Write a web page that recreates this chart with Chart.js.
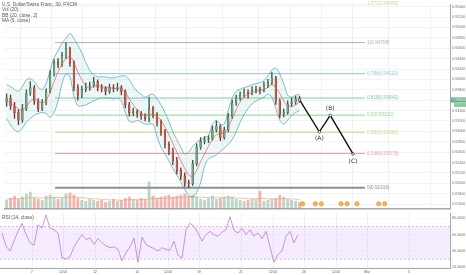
<!DOCTYPE html>
<html>
<head>
<meta charset="utf-8">
<script src="https://cdn.jsdelivr.net/npm/chart.js@4.4.1/dist/chart.umd.min.js"></script>
<style>
body { margin: 0; background: #fff; width: 466px; height: 275px; overflow: hidden; position: relative; font-family: "Liberation Sans", Arial, sans-serif; }
#main { position: absolute; left: 0; top: 0; }
#rsi { position: absolute; left: 0; top: 213px; }
.legend { position: absolute; left: 2px; top: 2px; font-size: 4.8px; line-height: 5.3px; color: #555; }
.rsiLegend { position: absolute; left: 2px; top: 215px; font-size: 4.8px; color: #555; }
</style>
</head>
<body>
<canvas id="main" width="466" height="213"></canvas>
<canvas id="rsi" width="466" height="62"></canvas>
<div class="legend">U.S. Dollar/Swiss Franc, 30, FXCM<br>Vol (20)<br>BB (20, close, 2)<br>MA (9, close)</div>
<div class="rsiLegend">RSI (14, close)</div>
<script>
// time axis labels (x in bar units)
const tickPos = [7.5, 15.25, 23.25, 33.75, 41.5, 49.25, 59.75, 67.75, 75.5, 83.5, 91.25, 101.75];
const tickLabels = ['7', '12:00', '12', '14', '12:00', '19', '21', '12:00', '26', '12:00', 'Mar', '5'];
const priceTicks = [0.916, 0.918, 0.920, 0.922, 0.924, 0.926, 0.928, 0.930, 0.932, 0.934,
                    0.936, 0.938, 0.940, 0.942, 0.944, 0.946, 0.948, 0.950, 0.952, 0.954];
const rsiTicks = [20, 40, 60, 80];

const opens = [0.93560,0.93641,0.93492,0.93362,0.93214,0.93437,0.93733,0.93845,0.93585,0.93437,
  0.93548,0.93771,0.94104,0.94327,0.94290,0.94457,0.94587,0.94327,0.93845,0.93696,
  0.93808,0.93845,0.93882,0.93956,0.93845,0.93826,0.93771,0.93845,0.93826,0.93845,
  0.93771,0.93511,0.93362,0.93381,0.93344,0.93300,0.93250,0.93437,0.93325,0.93177,
  0.92991,0.92750,0.92620,0.92435,0.92249,0.92138,0.92008,0.91990,0.92379,0.92695,
  0.92806,0.92843,0.92860,0.93029,0.93103,0.92880,0.93029,0.93288,0.93548,0.93641,
  0.93696,0.93752,0.93733,0.93789,0.93808,0.93790,0.93882,0.93937,0.94030,0.93585,
  0.93325,0.93362,0.93529,0.93566,0.93622];
const closes = [0.93641,0.93492,0.93362,0.93214,0.93437,0.93733,0.93845,0.93585,0.93437,0.93548,
  0.93771,0.94104,0.94327,0.94290,0.94457,0.94587,0.94327,0.93845,0.93696,0.93808,
  0.93845,0.93882,0.93956,0.93845,0.93826,0.93771,0.93845,0.93826,0.93845,0.93771,
  0.93511,0.93362,0.93381,0.93344,0.93300,0.93250,0.93437,0.93325,0.93177,0.92991,
  0.92750,0.92620,0.92435,0.92249,0.92138,0.92008,0.91990,0.92379,0.92695,0.92806,
  0.92843,0.92860,0.93029,0.93103,0.92880,0.93029,0.93288,0.93548,0.93641,0.93696,
  0.93752,0.93733,0.93789,0.93808,0.93790,0.93882,0.93937,0.94030,0.93585,0.93325,
  0.93362,0.93529,0.93566,0.93622,0.93604];
const highs = [0.93720,0.93700,0.93560,0.93420,0.93520,0.93800,0.93960,0.93880,0.93630,0.93610,
  0.93820,0.94170,0.94380,0.94400,0.94520,0.94708,0.94620,0.94360,0.93900,0.93870,
  0.93930,0.93950,0.94040,0.93990,0.93900,0.93860,0.93910,0.93900,0.93930,0.93880,
  0.93800,0.93560,0.93450,0.93420,0.93380,0.93340,0.93660,0.93480,0.93360,0.93220,
  0.93040,0.92800,0.92680,0.92500,0.92300,0.92200,0.92060,0.92440,0.92760,0.92880,
  0.92900,0.92920,0.93100,0.93200,0.93130,0.93080,0.93340,0.93600,0.93700,0.93760,
  0.93820,0.93800,0.93860,0.93870,0.93850,0.93950,0.94000,0.94130,0.94060,0.93620,
  0.93430,0.93590,0.93640,0.93680,0.93680];
const lows = [0.93480,0.93420,0.93250,0.93130,0.93170,0.93400,0.93690,0.93520,0.93380,0.93400,
  0.93510,0.93740,0.94060,0.94220,0.94250,0.94400,0.94250,0.93780,0.93600,0.93650,
  0.93760,0.93790,0.93850,0.93780,0.93760,0.93700,0.93730,0.93760,0.93780,0.93700,
  0.93450,0.93290,0.93300,0.93270,0.93230,0.93200,0.93180,0.93260,0.93100,0.92920,
  0.92680,0.92550,0.92360,0.92180,0.92070,0.91940,0.91916,0.91960,0.92340,0.92650,
  0.92760,0.92780,0.92830,0.92990,0.92820,0.92850,0.92990,0.93250,0.93500,0.93600,
  0.93660,0.93640,0.93700,0.93740,0.93720,0.93760,0.93840,0.93900,0.93520,0.93260,
  0.93280,0.93330,0.93480,0.93520,0.93560];

const bbUpper = [0.93900,0.93863,0.93808,0.93771,0.93863,0.93993,0.94012,0.93956,0.93845,0.93808,
  0.93919,0.94179,0.94420,0.94550,0.94698,0.94791,0.94884,0.94791,0.94661,0.94513,
  0.94327,0.94179,0.94086,0.94049,0.94049,0.94049,0.94030,0.94030,0.94049,0.94067,
  0.94067,0.93993,0.93863,0.93771,0.93715,0.93659,0.93696,0.93715,0.93622,0.93511,
  0.93362,0.93195,0.92991,0.92843,0.92695,0.92565,0.92602,0.92713,0.92787,0.92843,
  0.92880,0.92917,0.93140,0.93214,0.93140,0.93140,0.93399,0.93641,0.93771,0.93808,
  0.93845,0.93863,0.93900,0.93919,0.93937,0.93975,0.94067,0.94179,0.94216,0.94104,
  0.93919,0.93696,0.93659,0.93696,0.93715];
const bbLower = [0.93251,0.93121,0.93028,0.92991,0.93066,0.93177,0.93251,0.93307,0.93344,0.93362,
  0.93344,0.93270,0.93362,0.93585,0.93919,0.94104,0.94049,0.93678,0.93492,0.93492,
  0.93511,0.93548,0.93585,0.93622,0.93641,0.93641,0.93641,0.93622,0.93641,0.93585,
  0.93362,0.93195,0.93177,0.93214,0.93177,0.93140,0.93140,0.93140,0.92899,0.92695,
  0.92565,0.92435,0.92286,0.92157,0.92027,0.91878,0.91767,0.91730,0.91823,0.92008,
  0.92324,0.92472,0.92509,0.92546,0.92620,0.92676,0.92750,0.92843,0.92991,0.93177,
  0.93325,0.93437,0.93529,0.93585,0.93622,0.93659,0.93715,0.93659,0.93437,0.93214,
  0.93140,0.93214,0.93307,0.93362,0.93399];
const ma9 = [0.93585,0.93548,0.93492,0.93437,0.93399,0.93474,0.93585,0.93622,0.93585,0.93548,
  0.93604,0.93752,0.93956,0.94142,0.94290,0.94401,0.94438,0.94327,0.94142,0.93993,
  0.93882,0.93826,0.93863,0.93882,0.93863,0.93845,0.93845,0.93826,0.93826,0.93826,
  0.93752,0.93622,0.93511,0.93418,0.93344,0.93307,0.93325,0.93325,0.93288,0.93214,
  0.93084,0.92936,0.92769,0.92602,0.92435,0.92286,0.92157,0.92138,0.92249,0.92416,
  0.92565,0.92713,0.92843,0.92936,0.92954,0.92973,0.93084,0.93251,0.93418,0.93566,
  0.93659,0.93715,0.93752,0.93771,0.93789,0.93808,0.93845,0.93900,0.93845,0.93733,
  0.93585,0.93492,0.93474,0.93511,0.93566];

const volume = [800,1000,1200,900,1100,1400,1600,1000,900,800,
  1200,1300,1100,900,1000,1400,1500,1300,1000,800,
  700,900,800,700,800,600,700,900,700,800,
  1000,1100,900,800,1000,900,2600,1200,1000,1100,
  1200,1300,1100,1200,1300,1400,1200,1300,1100,900,
  800,1000,1200,900,1000,1100,1200,1100,900,800,
  700,800,900,900,1700,700,800,900,1000,1300,
  1100,900,800,700,600];
const volMa = [900,920,950,960,980,1000,1050,1060,1040,1020,
  1030,1060,1080,1070,1060,1080,1100,1110,1090,1050,
  1010,980,950,920,890,860,840,830,820,810,
  830,850,860,860,870,880,950,970,980,990,
  1000,1020,1040,1060,1080,1100,1110,1120,1110,1100,
  1080,1070,1080,1060,1050,1050,1060,1060,1030,1000,
  980,950,940,950,990,960,940,930,920,950,
  960,950,930,900,870];

const rsi = [62,46,40,52,64,74,60,50,47,72,
  68,84,68,66,62,32,30,33,45,53,
  60,54,56,48,55,50,46,44,45,42,
  28,38,45,56,26,57,48,45,43,40,
  44,42,41,52,35,31,66,74,70,62,
  52,60,64,60,58,63,66,82,65,62,
  68,60,66,58,62,55,64,45,26,36,
  40,58,64,50,60];

// fibonacci retracement
const fibRatios = [0, 0.236, 0.382, 0.5, 0.618, 0.786, 1, 1.272];
const fibPrices = [0.91916, 0.92575, 0.92982, 0.93312, 0.93641, 0.94110, 0.94708, 0.95450];
const fibColors = ['#8f8f8f', '#ee9a9a', '#c4da82', '#94d394', '#7cc9aa', '#8cc6e6', '#b0b0b0', '#bcdc86'];
const fibStart = 12.25, fibEnd = 90.5;

// projected A-B-C path
const abcX = [74, 79, 81.75, 87.5];
const abcY = [0.93604, 0.92991, 0.93307, 0.92565];
const abcLabels = ['', '(A)', '(B)', '(C)'];

const eventX = [74.75, 78, 79.5, 84.5, 86, 88.5, 94, 95.5];

const xy = arr => arr.map((v, i) => ({ x: i, y: v }));
const isUp = i => closes[i] >= opens[i];
const FONT = 'Liberation Sans';

const xAxisMin = -0.5, xAxisMax = 112;

// keep the plot flush with the canvas edges (no room reserved for half tick labels)
const noPad = s => { s.paddingTop = 0; s.paddingBottom = 0; s.width = 16; };

const drawLabels = {
  id: 'drawLabels',
  afterDatasetsDraw(chart) {
    const { ctx, scales: { x, y } } = chart;
    ctx.save();
    ctx.textBaseline = 'middle';
    ctx.font = `4.7px "${FONT}"`;
    fibPrices.forEach((p, k) => {
      ctx.fillStyle = fibColors[k];
      ctx.fillText(`${fibRatios[k]}(${p.toFixed(5)})`, x.getPixelForValue(fibEnd) + 2, y.getPixelForValue(p));
    });
    ctx.font = `6px "DejaVu Sans"`;
    ctx.fillStyle = '#333';
    ctx.textAlign = 'center';
    abcLabels.forEach((t, k) => {
      if (!t) return;
      const px = x.getPixelForValue(abcX[k]);
      const py = y.getPixelForValue(abcY[k]);
      ctx.fillText(t, px, t === '(B)' ? py - 7 : py + 7);
    });
    ctx.restore();
  },
  afterDraw(chart) {
    const { ctx, scales: { y }, chartArea } = chart;
    const last = closes[closes.length - 1];
    const py = y.getPixelForValue(last);
    ctx.save();
    ctx.fillStyle = '#5aa77b';
    ctx.fillRect(chartArea.right + 1, py - 2.5, 15, 5);
    ctx.fillStyle = '#fff';
    ctx.font = `3.7px "${FONT}"`;
    ctx.textBaseline = 'middle';
    ctx.fillText(last.toFixed(5), chartArea.right + 2.5, py);
    ctx.fillStyle = '#8fc9a6';
    ctx.fillRect(chartArea.right + 4, py + 3, 12, 4);
    ctx.restore();
  }
};

const mainDatasets = [
  {
    type: 'line', data: xy(bbUpper), borderColor: 'rgba(70,160,165,0.85)', borderWidth: 0.8,
    pointRadius: 0, tension: 0.3, fill: '+1', backgroundColor: 'rgba(90,175,180,0.10)', order: 6
  },
  {
    type: 'line', data: xy(bbLower), borderColor: 'rgba(70,160,165,0.85)', borderWidth: 0.8,
    pointRadius: 0, tension: 0.3, fill: false, order: 6
  },
  {
    type: 'bar', data: volume.map((v, i) => ({ x: i, y: v })), yAxisID: 'yVol', grouped: false,
    barThickness: 2.2, backgroundColor: c => isUp(c.dataIndex) ? 'rgba(107,165,131,0.45)' : 'rgba(215,84,66,0.42)', order: 9
  },
  {
    type: 'line', data: xy(volMa), yAxisID: 'yVol', borderColor: 'rgba(245,155,90,0.75)', borderWidth: 0.8,
    pointRadius: 0, tension: 0.3, order: 8
  },
  {
    type: 'line', data: xy(ma9), borderColor: 'rgba(215,85,75,0.8)', borderWidth: 0.8,
    pointRadius: 0, tension: 0.3, order: 3
  },
  {
    type: 'bar', data: lows.map((l, i) => ({ x: i, y: [l, highs[i]] })), grouped: false, barThickness: 0.7,
    backgroundColor: c => isUp(c.dataIndex) ? '#3a5a48' : '#6a3a33', order: 5
  },
  {
    type: 'bar', data: opens.map((o, i) => ({ x: i, y: [o, closes[i]] })), grouped: false, barThickness: 1.7,
    backgroundColor: c => isUp(c.dataIndex) ? '#74a88a' : '#c9604f',
    borderColor: c => isUp(c.dataIndex) ? '#34543f' : '#66302a', borderWidth: 0.35, borderSkipped: false, order: 4
  },
  ...fibPrices.map((p, k) => ({
    type: 'line', data: [{ x: fibStart, y: p }, { x: fibEnd, y: p }], borderColor: fibColors[k],
    borderWidth: k === 0 ? 2 : 1, pointRadius: 0, order: 7
  })),
  {
    type: 'line', data: abcX.map((v, k) => ({ x: v, y: abcY[k] })), borderColor: '#111', borderWidth: 1.4,
    pointRadius: 1.3, pointBackgroundColor: '#fff', pointBorderColor: '#111', pointBorderWidth: 0.6, order: 1
  },
  {
    type: 'line', data: eventX.map(v => ({ x: v, y: 450 })), yAxisID: 'yVol', showLine: false,
    pointRadius: 2.2, pointBackgroundColor: 'rgba(245,170,70,0.9)', pointBorderColor: '#e88a1a', pointBorderWidth: 0.5, order: 2
  }
];

new Chart(document.getElementById('main'), {
  type: 'bar',
  data: { datasets: mainDatasets },
  options: {
    responsive: false, animation: false,
    layout: { padding: 0 },
    plugins: { legend: { display: false }, tooltip: { enabled: false } },
    scales: {
      x: {
        type: 'linear', min: xAxisMin, max: xAxisMax, offset: false,
        grid: { color: '#ededed', drawTicks: false, lineWidth: 0.8 },
        border: { display: true, color: '#a8a8a8', width: 1.5 },
        ticks: { display: false },
        afterBuildTicks: s => { s.ticks = tickPos.map(v => ({ value: v })); },
        afterFit: s => { s.height = 1.5; s.paddingLeft = 0; s.paddingRight = 0; }
      },
      y: {
        position: 'right', min: 0.91517, max: 0.95440,
        grid: { color: '#f0f0f0', drawTicks: false, lineWidth: 0.8 },
        border: { color: '#a8a8a8', width: 1 },
        ticks: { autoSkip: false, padding: 2, color: '#777', font: { size: 3.7, family: FONT }, callback: v => v.toFixed(5) },
        afterBuildTicks: s => { s.ticks = priceTicks.map(v => ({ value: v })); },
        afterFit: noPad
      },
      yVol: { display: false, min: 0, max: 20000 }
    }
  },
  plugins: [drawLabels]
});

new Chart(document.getElementById('rsi'), {
  type: 'line',
  data: {
    datasets: [
      {
        data: [{ x: xAxisMin, y: 70 }, { x: xAxisMax, y: 70 }], borderColor: 'rgba(170,140,200,0.7)',
        borderWidth: 0.7, borderDash: [2, 2], pointRadius: 0, fill: false
      },
      {
        data: [{ x: xAxisMin, y: 30 }, { x: xAxisMax, y: 30 }], borderColor: 'rgba(170,140,200,0.7)',
        borderWidth: 0.7, borderDash: [2, 2], pointRadius: 0, fill: '-1', backgroundColor: 'rgba(185,120,245,0.14)'
      },
      {
        data: xy(rsi), borderColor: '#b77ddb', borderWidth: 0.8, pointRadius: 0, fill: false
      }
    ]
  },
  options: {
    responsive: false, animation: false,
    layout: { padding: 0 },
    plugins: { legend: { display: false }, tooltip: { enabled: false } },
    scales: {
      x: {
        type: 'linear', min: xAxisMin, max: xAxisMax,
        grid: { color: '#ededed', drawTicks: false, lineWidth: 0.8 },
        border: { display: true, color: '#a8a8a8', width: 1 },
        ticks: {
          autoSkip: false, maxRotation: 0, padding: 2, color: '#555', font: { size: 3.2, family: FONT },
          callback: v => tickLabels[tickPos.indexOf(v)]
        },
        afterBuildTicks: s => { s.ticks = tickPos.map(v => ({ value: v })); },
        afterFit: s => { s.height = 6.5; s.paddingLeft = 0; s.paddingRight = 0; }
      },
      y: {
        position: 'right', min: 18.5, max: 86.5,
        grid: { color: '#f4f4f4', drawTicks: false, lineWidth: 0.6 },
        border: { color: '#a8a8a8', width: 1 },
        ticks: { autoSkip: false, padding: 2, color: '#777', font: { size: 3.7, family: FONT }, callback: v => v.toFixed(4) },
        afterBuildTicks: s => { s.ticks = rsiTicks.map(v => ({ value: v })); },
        afterFit: noPad
      }
    }
  }
});
</script>
</body>
</html>
